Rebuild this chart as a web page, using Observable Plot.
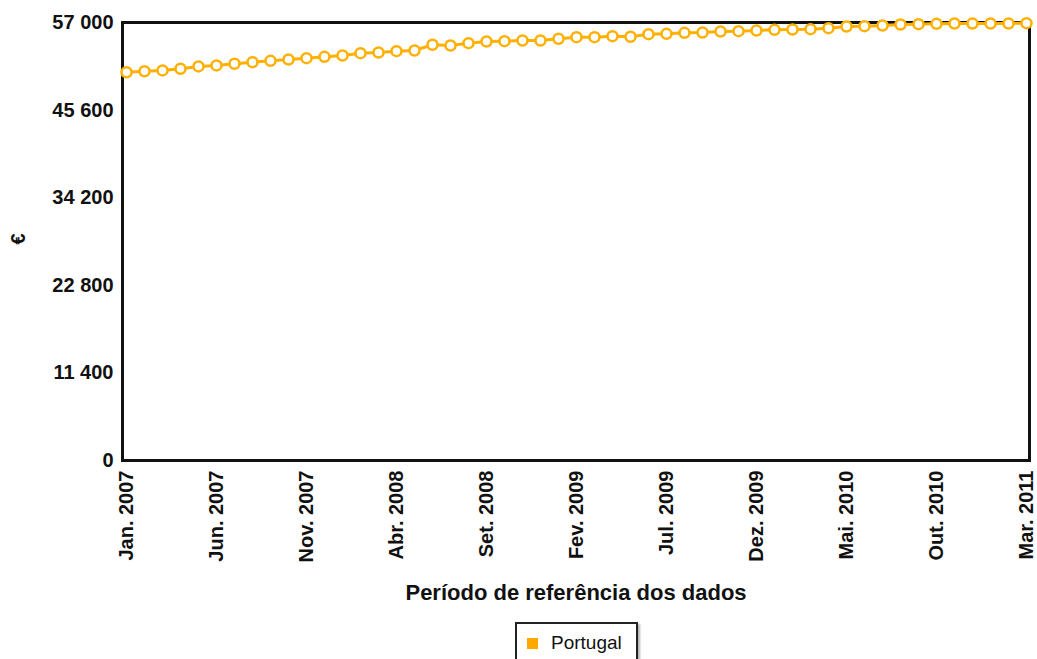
<!DOCTYPE html>
<html><head><meta charset="utf-8">
<script src="https://cdn.jsdelivr.net/npm/d3@7"></script>
<script src="https://cdn.jsdelivr.net/npm/@observablehq/plot@0.6"></script>
<style>
body{margin:0;background:#fff;font-family:"Liberation Sans",Arial,sans-serif;}
#wrap{position:relative;width:1037px;height:659px;overflow:hidden;}
#legend{position:absolute;left:515px;top:622px;width:119px;height:38px;border:2px solid #222;box-sizing:content-box;display:flex;align-items:center;background:#fff;box-shadow:2px 2px 2px rgba(0,0,0,0.3);}
#legend .sw{width:11px;height:11px;background:#FFA800;margin-left:10px;margin-right:13px;}
#legend .lb{font-size:19px;color:#111;}
</style>
</head><body><div id="wrap"><div id="chart"></div><div id="legend"><span class="sw"></span><span class="lb">Portugal</span></div></div>
<script>
const months = [
 "Jan. 2007","Fev. 2007","Mar. 2007","Abr. 2007","Mai. 2007","Jun. 2007","Jul. 2007","Ago. 2007","Set. 2007","Out. 2007","Nov. 2007","Dez. 2007",
 "Jan. 2008","Fev. 2008","Mar. 2008","Abr. 2008","Mai. 2008","Jun. 2008","Jul. 2008","Ago. 2008","Set. 2008","Out. 2008","Nov. 2008","Dez. 2008",
 "Jan. 2009","Fev. 2009","Mar. 2009","Abr. 2009","Mai. 2009","Jun. 2009","Jul. 2009","Ago. 2009","Set. 2009","Out. 2009","Nov. 2009","Dez. 2009",
 "Jan. 2010","Fev. 2010","Mar. 2010","Abr. 2010","Mai. 2010","Jun. 2010","Jul. 2010","Ago. 2010","Set. 2010","Out. 2010","Nov. 2010","Dez. 2010",
 "Jan. 2011","Fev. 2011","Mar. 2011"
];
const portugal = [
 50530,50660,50760,50980,51280,51410,51630,51840,52010,52190,52360,52530,
 52710,53010,53100,53270,53360,54100,54010,54310,54530,54570,54660,54660,
 54880,55090,55090,55220,55150,55480,55530,55660,55700,55830,55870,55960,
 56050,56090,56130,56260,56480,56520,56610,56740,56780,56830,56870,56870,
 56870,56870,56910
];
const xTickLabels = ["Jan. 2007","Jun. 2007","Nov. 2007","Abr. 2008","Set. 2008","Fev. 2009","Jul. 2009","Dez. 2009","Mai. 2010","Out. 2010","Mar. 2011"];
const yTicks = [0, 11400, 22800, 34200, 45600, 57000];
const seriesName = "Portugal";
const xTitle = "Período de referência dos dados";
const yTitle = "€";

const data = months.map((m, i) => ({month: m, value: portugal[i], series: seriesName}));
const lineColor = "#FFB000";
const fmt = d => d3.format(",")(d).replace(/,/g, " ");

const chart = Plot.plot({
  width: 1037,
  height: 612,
  marginTop: 22,
  marginLeft: 122,
  marginRight: 8,
  marginBottom: 152,
  style: {fontFamily: "'Liberation Sans', Arial, sans-serif", fontWeight: "bold", fontSize: "20px", color: "#111", background: "#fff"},
  x: {type: "point", domain: months, padding: 0, label: null},
  y: {domain: [0, 57000], label: null},
  marks: [
    Plot.axisY({ticks: yTicks, tickSize: 0, tickPadding: 9, tickFormat: fmt, label: null}),
    Plot.axisX({ticks: xTickLabels, tickSize: 0, tickPadding: 10, tickRotate: -90, label: null}),
    Plot.text([yTitle], {frameAnchor: "left", dx: -104, dy: 3, rotate: -90, fontSize: 20, fontWeight: "bold", fill: "#111"}),
    Plot.text([xTitle], {frameAnchor: "bottom", dy: 139, fontSize: 22, fontWeight: "bold", fill: "#111"}),
    Plot.frame({stroke: "#111", strokeWidth: 3}),
    Plot.line(data, {x: "month", y: "value", stroke: lineColor, strokeWidth: 3}),
    Plot.dot(data, {x: "month", y: "value", r: 5, fill: "white", stroke: lineColor, strokeWidth: 2.5})
  ]
});
document.getElementById("chart").appendChild(chart);
</script>
</body></html>
